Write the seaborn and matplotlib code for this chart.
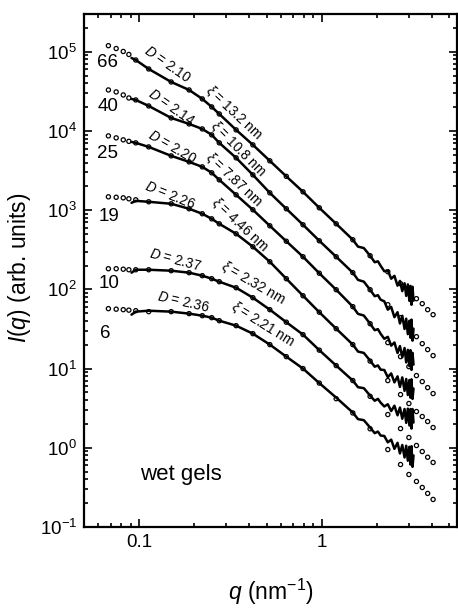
import numpy as np
import pandas as pd
import matplotlib
matplotlib.use("Agg")
import matplotlib.pyplot as plt
import seaborn as sns
from matplotlib.ticker import (LogLocator, NullFormatter, FixedLocator, FixedFormatter,
                               LogFormatterSciNotation)

sns.set_style("ticks")
plt.rcParams['font.family'] = ['Liberation Sans', 'DejaVu Sans']
plt.rcParams['mathtext.fontset'] = 'custom'
plt.rcParams['mathtext.rm'] = 'Liberation Sans'
plt.rcParams['mathtext.it'] = 'Liberation Sans:italic'
plt.rcParams['mathtext.bf'] = 'Liberation Sans:bold'
for k in ['axes.edgecolor', 'xtick.color', 'ytick.color', 'text.color', 'axes.labelcolor']:
    plt.rcParams[k] = 'black'

# ---------------- data ----------------
samples = ["66", "40", "25", "19", "10", "6"]
D_values = ["2.10", "2.14", "2.20", "2.26", "2.37", "2.36"]
xi_values = ["13.2", "10.8", "7.87", "4.46", "2.32", "2.21"]

x_ticks = [0.1, 1]
x_tick_labels = ["0.1", "1"]
y_ticks = [1e-1, 1e0, 1e1, 1e2, 1e3, 1e4, 1e5]

# q grid of fitted curves (open circles), nm^-1
q_fit = [0.068, 0.075, 0.082, 0.088, 0.096, 0.113, 0.150, 0.188, 0.222, 0.25,
         0.275, 0.34, 0.42, 0.52, 0.64, 0.79, 0.97, 1.2, 1.48, 1.84,
         2.3, 2.7, 3.0, 3.3, 3.55, 3.8, 4.07]
# q grid of measured curves (solid lines), nm^-1
q_data = [0.091, 0.096, 0.113, 0.150, 0.188, 0.222, 0.25, 0.275, 0.34, 0.42,
          0.52, 0.64, 0.79, 0.97, 1.2, 1.48, 1.58, 1.70, 1.84, 1.95, 2.03, 2.1,
          2.2, 2.3, 2.4, 2.5, 2.6, 2.68, 2.76, 2.84, 2.9, 2.96, 3.02, 3.06,
          3.1, 3.14, 3.18]

# log10 I(q) of fits
logI_fit_66 = [5.077, 5.041, 5.004, 4.966, 4.896, 4.783, 4.619, 4.518, 4.405, 4.304,
               4.215, 4.014, 3.825, 3.623, 3.427, 3.232, 3.030, 2.828, 2.627, 2.425,
               2.223, 2.072, 1.958, 1.883, 1.820, 1.744, 1.681]
logI_fit_40 = [4.518, 4.493, 4.455, 4.417, 4.392, 4.316, 4.165, 4.089, 4.026, 3.951,
               3.850, 3.661, 3.446, 3.219, 3.018, 2.816, 2.614, 2.412, 2.211, 1.996,
               1.807, 1.643, 1.530, 1.403, 1.315, 1.240, 1.164]
logI_fit_25 = [3.938, 3.913, 3.888, 3.869, 3.850, 3.799, 3.686, 3.610, 3.547, 3.472,
               3.383, 3.194, 3.005, 2.803, 2.608, 2.412, 2.204, 1.996, 1.782, 1.567,
               1.328, 1.151, 1.025, 0.912, 0.836, 0.760, 0.685]
logI_fit_19 = [3.169, 3.163, 3.156, 3.144, 3.131, 3.106, 3.081, 3.018, 2.955, 2.891,
               2.828, 2.702, 2.538, 2.349, 2.135, 1.920, 1.712, 1.504, 1.303, 1.095,
               0.849, 0.672, 0.559, 0.458, 0.395, 0.332, 0.256]
logI_fit_10 = [2.261, 2.261, 2.255, 2.248, 2.248, 2.248, 2.236, 2.211, 2.173, 2.135,
               2.097, 2.021, 1.895, 1.744, 1.586, 1.429, 1.233, 1.038, 0.849, 0.650,
               0.420, 0.243, 0.130, 0.029, -0.047, -0.119, -0.185]
logI_fit_6 = [1.757, 1.750, 1.744, 1.738, 1.731, 1.719, 1.719, 1.694, 1.668, 1.643,
              1.605, 1.542, 1.441, 1.303, 1.151, 1.000, 0.817, 0.620, 0.440, 0.240,
              -0.022, -0.211, -0.337, -0.425, -0.501, -0.576, -0.652]

# log10 I(q) of measured data
logI_data_66 = [4.922, 4.896, 4.783, 4.619, 4.518, 4.405, 4.304, 4.215, 4.014, 3.825,
                3.623, 3.427, 3.232, 3.030, 2.828, 2.627, 2.540, 2.522, 2.425, 2.343,
                2.355, 2.299, 2.229, 2.238, 2.135, 2.171, 2.047, 2.107, 1.978, 2.077,
                1.918, 2.063, 1.855, 2.044, 1.806, 2.033, 1.857]
logI_data_40 = [4.405, 4.392, 4.316, 4.165, 4.089, 4.026, 3.951, 3.850, 3.661, 3.446,
                3.219, 3.018, 2.816, 2.614, 2.412, 2.211, 2.120, 2.098, 1.996, 1.914,
                1.927, 1.870, 1.850, 1.744, 1.778, 1.649, 1.712, 1.570, 1.667, 1.500,
                1.630, 1.435, 1.604, 1.390, 1.618, 1.353, 1.504]
logI_data_25 = [3.862, 3.850, 3.799, 3.686, 3.610, 3.547, 3.472, 3.383, 3.194, 3.005,
                2.803, 2.608, 2.412, 2.204, 1.996, 1.782, 1.691, 1.670, 1.567, 1.485,
                1.498, 1.441, 1.376, 1.401, 1.290, 1.330, 1.197, 1.284, 1.145, 1.260,
                1.078, 1.237, 1.030, 1.233, 0.984, 1.199, 1.050]
logI_data_19 = [3.093, 3.118, 3.106, 3.081, 3.018, 2.955, 2.891, 2.828, 2.702, 2.538,
                2.349, 2.135, 1.920, 1.712, 1.504, 1.303, 1.215, 1.198, 1.101, 1.024,
                1.040, 0.987, 0.982, 0.892, 0.939, 0.826, 0.902, 0.769, 0.889, 0.719,
                0.869, 0.667, 0.856, 0.633, 0.865, 0.617, 0.748]
logI_data_10 = [2.211, 2.248, 2.248, 2.236, 2.211, 2.173, 2.135, 2.097, 2.021, 1.895,
                1.744, 1.586, 1.429, 1.233, 1.038, 0.849, 0.765, 0.753, 0.659, 0.594,
                0.618, 0.571, 0.522, 0.550, 0.464, 0.531, 0.410, 0.508, 0.367, 0.490,
                0.315, 0.494, 0.282, 0.489, 0.243, 0.489, 0.319]
logI_data_6 = [1.681, 1.719, 1.731, 1.719, 1.694, 1.668, 1.643, 1.605, 1.542, 1.441,
               1.303, 1.151, 1.000, 0.817, 0.634, 0.445, 0.362, 0.349, 0.256, 0.185,
               0.205, 0.155, 0.149, 0.069, 0.103, -0.013, 0.063, -0.071, 0.035, -0.122,
               0.026, -0.163, 0.013, -0.211, 0.020, -0.240, -0.097]

fit_series = [logI_fit_66, logI_fit_40, logI_fit_25, logI_fit_19, logI_fit_10, logI_fit_6]
data_series = [logI_data_66, logI_data_40, logI_data_25, logI_data_19, logI_data_10, logI_data_6]

fit_df = pd.concat([pd.DataFrame({"q": q_fit, "I": 10.0 ** np.array(v), "sample": s})
                    for s, v in zip(samples, fit_series)], ignore_index=True)
data_df = pd.concat([pd.DataFrame({"q": q_data, "I": 10.0 ** np.array(v), "sample": s})
                     for s, v in zip(samples, data_series)], ignore_index=True)

# ---------------- figure ----------------
fig = plt.figure(figsize=(4.58, 6.08), dpi=100)
ax = fig.add_axes([0.1834, 0.1332, 0.8144, 0.8438])
ax.set_xscale("log")
ax.set_yscale("log")

sns.lineplot(data=data_df, x="q", y="I", units="sample", estimator=None, sort=False,
             color="black", lw=1.8, ax=ax, zorder=2, legend=False)
sns.scatterplot(data=fit_df, x="q", y="I", ax=ax, marker="o", s=9,
                facecolor="none", edgecolor="black", linewidth=0.9,
                zorder=3, legend=False)

ax.set_xlim(0.05, 5.5)
ax.set_ylim(0.1, 3e5)

ax.xaxis.set_major_locator(FixedLocator(x_ticks))
ax.xaxis.set_major_formatter(FixedFormatter(x_tick_labels))
ax.xaxis.set_minor_locator(LogLocator(base=10, subs=np.arange(2, 10), numticks=20))
ax.xaxis.set_minor_formatter(NullFormatter())
ax.yaxis.set_major_locator(FixedLocator(y_ticks))
ax.yaxis.set_major_formatter(LogFormatterSciNotation())
ax.yaxis.set_minor_locator(LogLocator(base=10, subs=np.arange(2, 10), numticks=20))
ax.yaxis.set_minor_formatter(NullFormatter())

ax.tick_params(which="both", direction="in", top=True, right=True, width=1.2)
ax.tick_params(which="major", length=6, labelsize=13.5, pad=5)
ax.tick_params(which="minor", length=3.2)
for sp in ax.spines.values():
    sp.set_linewidth(1.6)
    sp.set_color("black")

ax.set_xlabel(r"$\mathit{q}$ (nm$^{\mathdefault{-1}}$)", fontsize=16.5, va="center")
ax.xaxis.set_label_coords(0.5, -0.1267)
ax.set_ylabel(r"$\mathit{I}$($\mathit{q}$) (arb. units)", fontsize=16.5, va="center")
ax.yaxis.set_label_coords(-0.174, 0.505)

# sample labels
label_pos = [(0.063, 0.906), (0.064, 0.819), (0.063, 0.729),
             (0.067, 0.606), (0.067, 0.474), (0.056, 0.378)]
for s, (fx, fy) in zip(samples, label_pos):
    ax.text(fx, fy, s, transform=ax.transAxes, ha="center", va="center", fontsize=13.5)

# D annotations
D_pos = [(0.2225, 0.9026, -35), (0.2346, 0.8178, -35), (0.2373, 0.7408, -30),
         (0.2306, 0.6463, -22), (0.2440, 0.5206, -15), (0.2654, 0.4387, -13)]
for d, (fx, fy, rot) in zip(D_values, D_pos):
    ax.text(fx, fy, r"$D$ = " + d, transform=ax.transAxes, ha="center", va="center",
            rotation=rot, rotation_mode="anchor", fontsize=9.8)

# xi annotations
xi_pos = [(0.4034, 0.8082, -43), (0.4128, 0.7370, -45), (0.4034, 0.6776, -43),
          (0.4182, 0.5899, -43), (0.4530, 0.4758, -30), (0.4798, 0.3959, -32)]
for xv, (fx, fy, rot) in zip(xi_values, xi_pos):
    ax.text(fx, fy, r"$\xi$ = " + xv + " nm", transform=ax.transAxes, ha="center",
            va="center", rotation=rot, rotation_mode="anchor", fontsize=9.8)

ax.text(0.2601, 0.1033, "wet gels", transform=ax.transAxes, ha="center", va="center",
        fontsize=16)

fig.savefig("out.png", dpi=100)
